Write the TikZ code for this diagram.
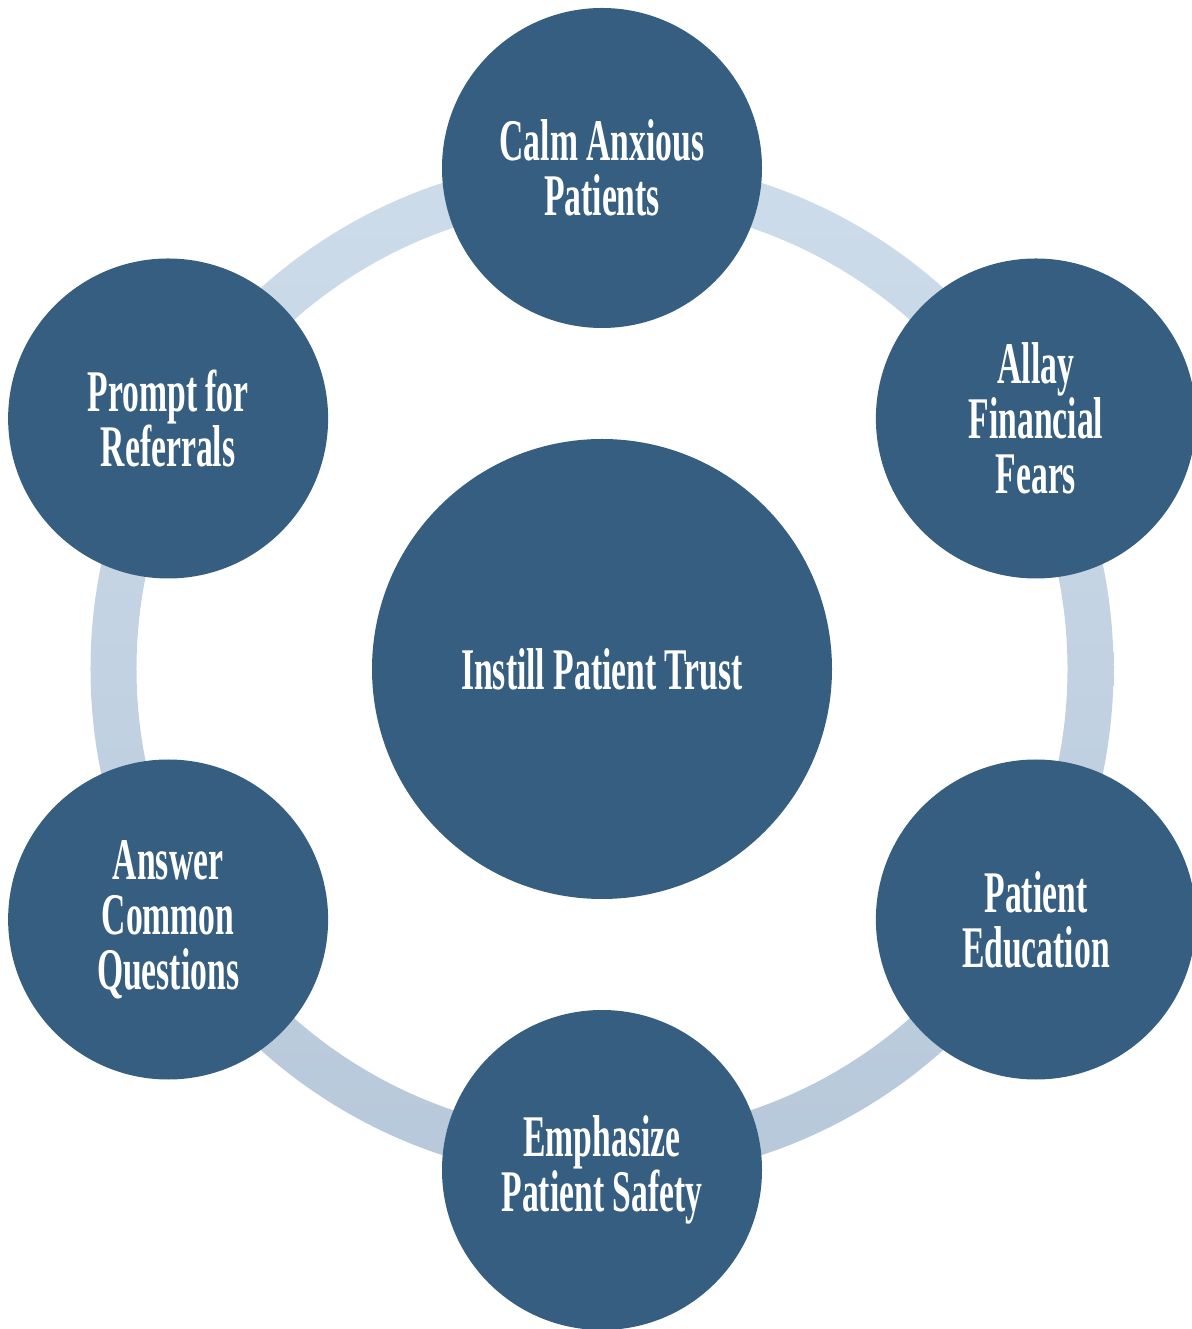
\documentclass[tikz,border=0pt]{standalone}
\usepackage{fontspec}
\usepackage{tikz}
\newfontfamily\bubblefont[FakeStretch=0.57]{Liberation Serif}
\definecolor{bubbleblue}{RGB}{54,94,128}
\definecolor{ringtop}{RGB}{205,220,234}
\definecolor{ringbottom}{RGB}{183,200,218}
\tikzset{
  bubble/.style={circle, fill=bubbleblue, text=white, inner sep=0pt, align=center,
    font={\bubblefont\bfseries\fontsize{16.8pt}{15.7pt}\selectfont}},
  small bubble/.style={bubble, minimum size=3.2cm},
  big bubble/.style={bubble, minimum size=4.6cm}
}
\begin{document}
\begin{tikzpicture}
\useasboundingbox (-6.02,-6.60) rectangle (5.89,6.69);
% ring behind the bubbles
\shade[top color=ringtop, bottom color=ringbottom, even odd rule]
  (0,0) circle (5.115cm) (0,0) circle (4.655cm);
% centre
\node[big bubble] (trust) at (0,0) {Instill Patient Trust};
% outer bubbles
\node[small bubble] (calm) at (90:5.01) {Calm Anxious\\Patients};
\node[small bubble] (allay) at (30:5.01) {Allay\\Financial\\Fears};
\node[small bubble] (educ) at (-30:5.01) {Patient\\Education};
\node[small bubble] (safety) at (-90:5.01) {Emphasize\\Patient Safety};
\node[small bubble] (answer) at (210:5.01) {Answer\\Common\\Questions};
\node[small bubble] (prompt) at (150:5.01) {Prompt for\\Referrals};
\end{tikzpicture}
\end{document}
